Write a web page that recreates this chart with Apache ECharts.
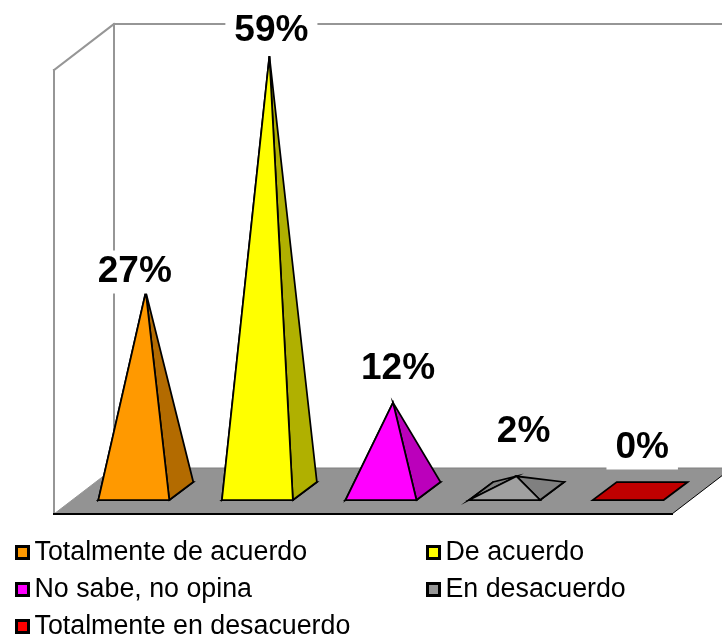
<!DOCTYPE html>
<html>
<head>
<meta charset="utf-8">
<style>html,body{margin:0;padding:0;background:#fff}#chart{width:722px;height:639px}</style>
<script src="https://cdn.jsdelivr.net/npm/echarts@6/dist/echarts.min.js"></script>
</head>
<body>
<div id="chart"></div>
<script>
// Survey answers, as percentages
const categories = ['Totalmente de acuerdo', 'De acuerdo', 'No sabe, no opina', 'En desacuerdo', 'Totalmente en desacuerdo'];
const values = [27, 59, 12, 2, 0];
const valueLabels = ['27%', '59%', '12%', '2%', '0%'];

// Colours of the swatches and of the pyramid faces
const swatchColors = ['#ff9900', '#ffff00', '#ff00ff', '#969696', '#ff0000'];
const frontColors = ['#ff9900', '#ffff00', '#ff00ff', '#a0a0a0', '#c00000'];
const sideColors = ['#b36b00', '#b0b000', '#bb00bb', '#808080', '#c00000'];

// Label nudges relative to each apex, in pixels
const labelDx = [-11, 2, 5, 7, 2];
const labelDy = [-20, -25, -34, -44, -43];

const FONT = '"Liberation Sans", Arial, sans-serif';
const WALL = '#969696';
const FLOOR = '#939393';
const AXIS_MAX = 60.25;
const ROOM_DX = 30, ROOM_DY = 23;    // half depth of the room
const BAR_DX = 12, BAR_DY = 9;       // half depth of a pyramid base
const BAR_RATIO = 0.574;             // base width as a share of a category band

function line(x1, y1, x2, y2, stroke, width) {
  return { type: 'line', shape: { x1, y1, x2, y2 }, style: { stroke, lineWidth: width, lineCap: 'square' }, silent: true };
}

// Floor and the two walls
function renderRoom(params, api) {
  const band = api.size([1, 0])[0];
  const base = api.coord([0, 0]);
  const topY = api.coord([0, AXIS_MAX])[1];
  const left = base[0] - band / 2;
  const right = left + band * categories.length;
  const y = base[1];
  return {
    type: 'group',
    children: [
      { type: 'polygon', shape: { points: [[left - ROOM_DX, y + ROOM_DY], [right - ROOM_DX, y + ROOM_DY], [right + ROOM_DX, y - ROOM_DY], [left + ROOM_DX, y - ROOM_DY]] }, style: { fill: FLOOR } },
      line(left - ROOM_DX, y + ROOM_DY, left - ROOM_DX, topY + ROOM_DY, WALL, 2),
      line(left - ROOM_DX, topY + ROOM_DY, left + ROOM_DX, topY - ROOM_DY, WALL, 2),
      line(left + ROOM_DX, topY - ROOM_DY, left + ROOM_DX, y - ROOM_DY, WALL, 2),
      line(left + ROOM_DX, topY - ROOM_DY, right + ROOM_DX, topY - ROOM_DY, WALL, 2),
      line(left - ROOM_DX, y + ROOM_DY, left + ROOM_DX, y - ROOM_DY, WALL, 1),
      line(left + ROOM_DX, y - ROOM_DY, right + ROOM_DX, y - ROOM_DY, '#808080', 1),
      line(left - ROOM_DX, y + ROOM_DY, right - ROOM_DX, y + ROOM_DY, '#000', 2),
      line(right - ROOM_DX, y + ROOM_DY, right + ROOM_DX, y - ROOM_DY, '#000', 1)
    ]
  };
}

// One pyramid standing on the floor, with its percentage above it
function renderPyramid(params, api) {
  const i = api.value(0);
  const v = api.value(1);
  const foot = api.coord([i, 0]);
  const apex = api.coord([i, v]);
  const half = api.size([1, 0])[0] * BAR_RATIO / 2;
  const k = params.seriesIndex - 1;
  const fl = [foot[0] - half - BAR_DX, foot[1] + BAR_DY];
  const fr = [foot[0] + half - BAR_DX, foot[1] + BAR_DY];
  const br = [foot[0] + half + BAR_DX, foot[1] - BAR_DY];
  const bl = [foot[0] - half + BAR_DX, foot[1] - BAR_DY];
  const edge = { stroke: '#000', lineWidth: 1.75, lineJoin: 'miter', miterLimit: 12 };
  const children = [];
  children.push({ type: 'polygon', shape: { points: [fl, fr, br, bl] }, style: Object.assign({ fill: frontColors[k] }, edge) });
  if (v > 0) {
    children.push({ type: 'polygon', shape: { points: [fl, bl, apex] }, style: Object.assign({ fill: sideColors[k] }, edge) });
    children.push({ type: 'polygon', shape: { points: [fr, br, apex] }, style: Object.assign({ fill: sideColors[k] }, edge) });
    children.push({ type: 'polygon', shape: { points: [fl, fr, apex] }, style: Object.assign({ fill: frontColors[k] }, edge) });
  }
  children.push({
    type: 'text', z2: 50,
    style: {
      text: valueLabels[k], x: apex[0] + labelDx[k], y: apex[1] + labelDy[k],
      fill: '#000', font: 'bold 37px ' + FONT, align: 'center', verticalAlign: 'middle',
      backgroundColor: '#fff', padding: [3, 9]
    }
  });
  return { type: 'group', children };
}

const series = [{
  type: 'custom', name: 'room', z: 1, silent: true,
  coordinateSystem: 'cartesian2d', data: [[0, 0]], renderItem: renderRoom
}].concat(categories.map((name, i) => ({
  type: 'custom', name, z: 2, silent: true,
  coordinateSystem: 'cartesian2d',
  itemStyle: { color: swatchColors[i] },
  encode: { x: 0, y: 1 },
  data: [[i, values[i]]],
  renderItem: renderPyramid
})));

// Two-column key under the chart
const legendCols = [15, 426];
const legendRows = [539, 576, 613];
const legends = categories.map((name, i) => ({
  data: [name], icon: 'rect', selectedMode: false,
  left: legendCols[i % 2], top: legendRows[Math.floor(i / 2)],
  padding: 0, itemWidth: 12, itemHeight: 12,
  itemStyle: { borderColor: '#000', borderWidth: 3 },
  textStyle: { fontFamily: FONT, fontSize: 26.8, color: '#000', padding: [0, 0, 0, 1] }
}));

const chart = echarts.init(document.getElementById('chart'), null, { renderer: 'canvas' });
chart.setOption({
  animation: false,
  backgroundColor: '#fff',
  grid: { left: 84, top: 47, width: 618, height: 444, containLabel: false },
  xAxis: { type: 'category', data: categories, show: false },
  yAxis: { type: 'value', min: 0, max: AXIS_MAX, show: false },
  legend: legends,
  series
});
</script>
</body>
</html>
